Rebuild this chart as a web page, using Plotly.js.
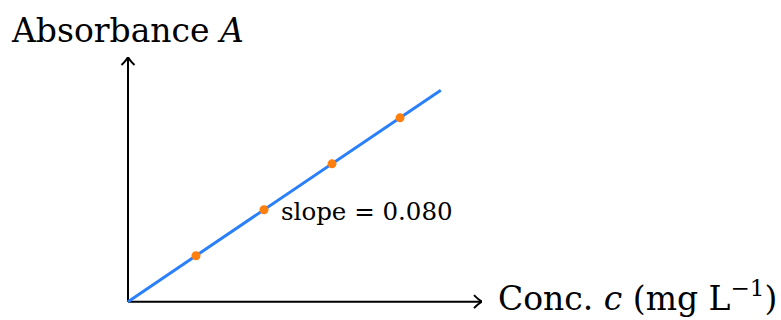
<!DOCTYPE html>
<html>
<head>
<meta charset="utf-8">
<script src="https://cdn.plot.ly/plotly-3.0.1.min.js"></script>
<style>
  html, body { margin: 0; padding: 0; background: #ffffff; }
  #chart { width: 781px; height: 320px; }
</style>
</head>
<body>
<div id="chart"></div>
<script>
// Data
const conc = [2, 4, 6, 8];                 // mg L^-1
const absorbance = [0.16, 0.32, 0.48, 0.64];
const fitX = [0, 9.2];
const fitY = [0, 0.736];
const slopeLabel = 'slope = 0.080';
const yTitle = 'Absorbance <i>A</i>';
const xTitle = 'Conc. <i>c</i> (mg L<sup>−1</sup>)';

const xMin = -0.5, xMax = 10.412;
const yMin = -0.05, yMax = 0.852;
const FONT = 'DejaVu Serif, Liberation Serif, serif';
const arrowPath = 'M -8 6.5 Q -3 1.5 0 0 Q -3 -1.5 -8 -6.5';
const arrowPathUp = 'M -6.5 -8 Q -1.5 -3 0 0 Q 1.5 -3 6.5 -8';

const traces = [
  {
    x: fitX, y: fitY, type: 'scatter', mode: 'lines',
    line: { color: '#2a7ffb', width: 3 },
    hoverinfo: 'skip', showlegend: false
  },
  {
    x: conc, y: absorbance, type: 'scatter', mode: 'markers',
    marker: { color: '#ff7f0e', size: 9 },
    cliponaxis: false, showlegend: false
  }
];

const layout = {
  width: 781, height: 320,
  margin: { l: 111, r: 299, t: 57, b: 4, pad: 0 },
  paper_bgcolor: '#ffffff', plot_bgcolor: '#ffffff',
  showlegend: false,
  font: { family: FONT, color: '#000000' },
  xaxis: { range: [xMin, xMax], showgrid: false, zeroline: false, showline: false,
           showticklabels: false, ticks: '', fixedrange: true },
  yaxis: { range: [yMin, yMax], showgrid: false, zeroline: false, showline: false,
           showticklabels: false, ticks: '', fixedrange: true },
  shapes: [
    { type: 'line', xref: 'x', yref: 'y', x0: 0, y0: 0, x1: xMax, y1: 0,
      line: { color: '#000', width: 2 }, layer: 'below' },
    { type: 'line', xref: 'x', yref: 'y', x0: 0, y0: 0, x1: 0, y1: yMax,
      line: { color: '#000', width: 2 }, layer: 'below' },
    { type: 'path', xref: 'x', yref: 'y', xsizemode: 'pixel', ysizemode: 'pixel',
      xanchor: xMax, yanchor: 0, path: arrowPath,
      line: { color: '#000', width: 2 }, layer: 'below' },
    { type: 'path', xref: 'x', yref: 'y', xsizemode: 'pixel', ysizemode: 'pixel',
      xanchor: 0, yanchor: yMax, path: arrowPathUp,
      line: { color: '#000', width: 2 }, layer: 'below' }
  ],
  annotations: [
    { text: yTitle, xref: 'x', yref: 'y', x: 0, y: yMax, xshift: -119, yshift: 27,
      xanchor: 'left', yanchor: 'middle', showarrow: false,
      font: { family: FONT, size: 33, color: '#000' } },
    { text: xTitle, xref: 'x', yref: 'y', x: xMax, y: 0, xshift: 14, yshift: 5,
      xanchor: 'left', yanchor: 'middle', showarrow: false,
      font: { family: FONT, size: 33, color: '#000' } },
    { text: slopeLabel, xref: 'x', yref: 'y', x: conc[1], y: absorbance[1], xshift: 15, yshift: -2,
      xanchor: 'left', yanchor: 'middle', showarrow: false,
      font: { family: FONT, size: 24.5, color: '#000' } }
  ]
};

Plotly.newPlot('chart', traces, layout, { displayModeBar: false, staticPlot: true });
</script>
</body>
</html>
